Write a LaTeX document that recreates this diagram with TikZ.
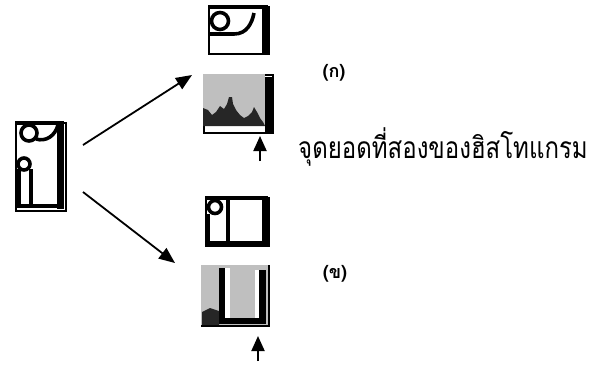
\documentclass[tikz,border=0pt]{standalone}
\usepackage{fontspec}
\newfontfamily\thaifont[Script=Thai]{Loma}
\usetikzlibrary{arrows.meta}
\begin{document}
\begin{tikzpicture}[x=1pt,y=-1pt,
  frame/.style={draw,line width=1.8pt,inner sep=0pt,anchor=north west},
  ink/.style={line width=3.6pt},
  bigarrow/.style={line width=1.8pt,-{Triangle[length=16pt,width=13pt]}},
  smallarrow/.style={line width=2pt,-{Triangle[length=15pt,width=13pt]}},
  lab/.style={font=\thaifont\bfseries\fontsize{18}{20}\selectfont},
  shade/.style={fill=gray!50}]
\useasboundingbox (0,0) rectangle (597,365);

% ---- left icon
\node[frame,minimum width=50pt,minimum height=88pt] (L) at (15,122) {};
\fill (57,123) rectangle (64,209);
\draw[line width=3.5pt] (15,123) -- (64,123);
\draw[ink] (29,133) circle (8);
\draw[ink] (36,139) .. controls (46,142) and (55,136) .. (58,125);
\draw[ink] (24,164) circle (6);
\draw[ink] (19,169) -- (19,206) -- (60,206);
\draw[ink] (31,169) -- (31,206);

% ---- top image
\node[frame,minimum width=60pt,minimum height=47pt] (I1) at (208,6) {};
\draw[line width=4pt] (208,7) -- (268,7);
\fill (262,6) rectangle (268,53);
\draw[ink] (220,21) circle (8.5);
\draw[ink] (209,34) -- (234,34) .. controls (247,34) and (252,23) .. (254,13);

% ---- top histogram
\node[frame,minimum width=69pt,minimum height=58pt] (H1) at (203,74) {};
\fill[shade] (203,74) rectangle (265,126);
\fill[black!85] (203,126) -- (203,108) -- (208,110) -- (212,115) -- (216,112) -- (220,106)
  -- (224,109) -- (227,104) -- (229,97) -- (232,97) -- (233,104) -- (236,110) -- (240,115)
  -- (244,118) -- (248,116) -- (252,112) -- (254,107) -- (257,112) -- (260,118) -- (263,122)
  -- (265,126) -- cycle;
\fill (265,77) rectangle (272,132);
\coordinate (p1) at (260,161);
\coordinate (q1) at (260,136);
\draw[smallarrow] (p1) -- (q1);

% ---- bottom image
\node[frame,minimum width=63pt,minimum height=48pt] (I2) at (205,197) {};
\draw[line width=4pt] (205,198) -- (268,198);
\fill (262,197) rectangle (268,245);
\draw[ink] (215,207) circle (6.5);
\draw[ink] (208,214) -- (208,243) -- (262,243);
\draw[line width=4pt] (228,200) -- (228,243);

% ---- bottom histogram
\node[frame,minimum width=67pt,minimum height=60pt] (H2) at (201,265) {};
\fill[shade] (201,265) rectangle (268,325);
\fill[white] (225,268) rectangle (230,318);
\fill[white] (255,270) rectangle (259,318);
\fill (219,268) rectangle (225,324);
\fill (219,318) rectangle (265,324);
\fill (259,270) rectangle (266,324);
\fill[black!85] (202,325) -- (202,312) -- (210,308) -- (219,311) -- (219,325) -- cycle;
\coordinate (p2) at (258,361);
\coordinate (q2) at (258,336);
\draw[smallarrow] (p2) -- (q2);

% ---- big arrows
\coordinate (a1) at (83,145);
\coordinate (b1) at (192,75);
\coordinate (a2) at (83,192);
\coordinate (b2) at (175,263);
\draw[bigarrow] (a1) -- (b1);
\draw[bigarrow] (a2) -- (b2);

% ---- labels
\node[lab] (ka) at (334,73) {(ก)};
\node[lab] (kha) at (335,274) {(ข)};
\node[anchor=west,inner sep=0pt,font=\thaifont\fontsize{30}{34}\selectfont] (t) at (298,147) {\scalebox{0.8}[1]{จุดยอดที่สองของฮิสโทแกรม}};
\end{tikzpicture}
\end{document}
